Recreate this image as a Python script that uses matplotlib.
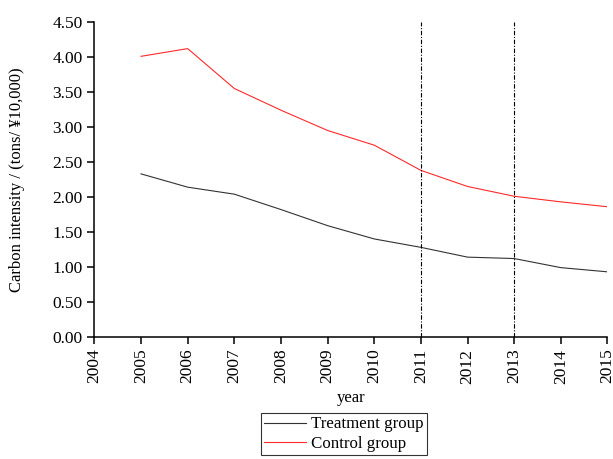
import matplotlib
matplotlib.use("Agg")
import matplotlib.pyplot as plt

plt.rcParams['font.family'] = ['Liberation Serif', 'DejaVu Serif']
plt.rcParams['font.size'] = 12

years = [2005, 2006, 2007, 2008, 2009, 2010, 2011, 2012, 2013, 2014, 2015]
treatment = [2.33, 2.14, 2.04, 1.82, 1.59, 1.40, 1.28, 1.14, 1.12, 0.99, 0.93]
control = [4.01, 4.12, 3.55, 3.24, 2.95, 2.74, 2.38, 2.15, 2.01, 1.93, 1.86]
policy_years = [2011, 2013]
xticks = list(range(2004, 2016))
yticks = [0.0, 0.5, 1.0, 1.5, 2.0, 2.5, 3.0, 3.5, 4.0, 4.5]

fig = plt.figure(figsize=(6.13, 4.59), dpi=100)
ax = fig.add_axes([0.154, 0.266, 0.837, 0.686])

ax.plot(years, treatment, color='#333333', linewidth=0.8, label='Treatment group')
ax.plot(years, control, color='#ff2a2a', linewidth=0.8, label='Control group')
for yr in policy_years:
    ax.axvline(yr, color='black', linestyle='-.', linewidth=0.8, dashes=(4, 1.5, 1, 1.5))

ax.set_xlim(2004, 2015)
ax.set_ylim(0, 4.5)
ax.set_xticks(xticks)
ax.set_xticklabels([str(x) for x in xticks], rotation=90)
ax.set_yticks(yticks)
ax.set_yticklabels([f'{v:.2f}' for v in yticks])

for side in ['top', 'right']:
    ax.spines[side].set_visible(False)
for side in ['left', 'bottom']:
    ax.spines[side].set_linewidth(1.1)
ax.tick_params(direction='out', length=5, width=1.1, labelsize=12.5)

ax.set_xlabel('year', fontsize=12)
ax.xaxis.set_label_coords(0.5, -0.17)
ax.set_ylabel('Carbon intensity / (tons/ ¥10,000)', fontsize=12)
ax.yaxis.set_label_coords(-0.135, 0.5)

leg = fig.legend(loc='upper center', bbox_to_anchor=(0.561, 0.1), fontsize=12.2,
                 frameon=True, fancybox=False, edgecolor='black', handlelength=2.5,
                 borderpad=0.2, labelspacing=0.2, handletextpad=0.3, borderaxespad=0)
leg.get_frame().set_linewidth(0.8)
leg._legend_box.sep = 2

fig.savefig('out.png', dpi=100)
